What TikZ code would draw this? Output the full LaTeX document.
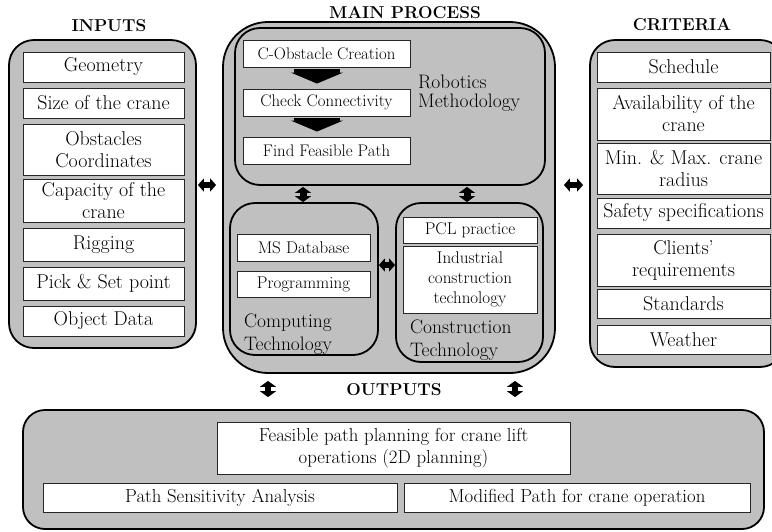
\documentclass[tikz,border=0pt]{standalone}
\usepackage{fontspec}
\usetikzlibrary{arrows.meta}
\definecolor{panelgrey}{RGB}{192,192,192}
\newcommand{\boxfont}{\fontsize{20}{22}\selectfont}
\newcommand{\innerfont}{\fontsize{16.8}{19}\selectfont}
\newcommand{\techfont}{\fontsize{17}{20}\selectfont}
\newcommand{\outfont}{\fontsize{18.8}{22}\selectfont}
\newcommand{\labfont}{\fontsize{19.5}{22.5}\selectfont}
\newcommand{\ttlfont}{\fontsize{17.2}{20}\selectfont\bfseries}
\begin{document}
\begin{tikzpicture}[x=1pt,y=-1pt,
  panel/.style={draw=black, line width=1.8pt, fill=panelgrey, rounded corners=#1, inner sep=0pt},
  panel/.default=25pt,
  wbox/.style={draw=black!85, line width=0.9pt, fill=white, inner sep=0pt, align=center, font=\boxfont},
  ttl/.style={font=\ttlfont, inner sep=0pt},
  lab/.style={font=\labfont, align=left, anchor=west, inner sep=0pt},
  dblh/.style={line width=6pt, {Triangle[width=13pt,length=6pt]}-{Triangle[width=13pt,length=6pt]}},
  dblv/.style={line width=7pt, {Triangle[width=16pt,length=6pt]}-{Triangle[width=16pt,length=6pt]}},
  blockarrow/.style={line width=46pt, -{Triangle[width=52pt,length=11pt]}, shorten <=2pt, shorten >=5pt}
]
\useasboundingbox (0,0) rectangle (772,531);
\clip (0,0) rectangle (772,531);

% ---------- panels ----------
\node[panel, minimum width=187pt, minimum height=308pt] (inP) at (102.5,194) {};
\node[panel=45pt, minimum width=332pt, minimum height=351pt] (mainP) at (389,197.5) {};
\node[panel, minimum width=310pt, minimum height=157pt] (robP) at (390,106.5) {};
\node[panel, minimum width=148pt, minimum height=152pt] (compP) at (304,279) {};
\node[panel, minimum width=147pt, minimum height=159pt] (consP) at (469.5,282.5) {};
\node[panel, minimum width=195pt, minimum height=327pt] (critP) at (687.5,203.5) {};
\node[panel=22pt, minimum width=741pt, minimum height=119pt] (outP) at (393.5,469.5) {};

% ---------- titles ----------
\node[ttl] (tIn) at (109,26) {INPUTS};
\node[ttl] (tMain) at (405,13) {MAIN PROCESS};
\node[ttl] (tCrit) at (682,25) {CRITERIA};
\node[ttl] (tOut) at (394,390) {OUTPUTS};

% ---------- inputs ----------
\node[wbox, minimum width=161pt, minimum height=30pt] (geo) at (103.5,67) {Geometry};
\node[wbox, minimum width=161pt, minimum height=30pt] (size) at (103.5,103) {Size of the crane};
\node[wbox, minimum width=161pt, minimum height=51pt] (obst) at (103.5,149.5) {Obstacles\\Coordinates};
\node[wbox, minimum width=161pt, minimum height=43pt] (cap) at (103.5,200.5) {Capacity of the\\crane};
\node[wbox, minimum width=161pt, minimum height=33pt] (rig) at (103.5,244.5) {Rigging};
\node[wbox, minimum width=161pt, minimum height=33pt] (pick) at (103.5,283.5) {Pick \& Set point};
\node[wbox, minimum width=161pt, minimum height=30pt] (obj) at (103.5,321) {Object Data};

% ---------- criteria ----------
\node[wbox, minimum width=173pt, minimum height=30pt] (sched) at (683.5,67) {Schedule};
\node[wbox, minimum width=173pt, minimum height=52pt] (avail) at (683.5,114) {Availability of the\\crane};
\node[wbox, minimum width=173pt, minimum height=51pt] (radius) at (683.5,168.5) {Min. \& Max. crane\\radius};
\node[wbox, minimum width=173pt, minimum height=30pt] (safety) at (683.5,213) {Safety specifications};
\node[wbox, minimum width=173pt, minimum height=52pt] (clients) at (683.5,260) {Clients’\\requirements};
\node[wbox, minimum width=173pt, minimum height=29pt] (stand) at (683.5,303.5) {Standards};
\node[wbox, minimum width=173pt, minimum height=29pt] (weather) at (683.5,339.5) {Weather};

% ---------- robotics methodology ----------
\node[wbox, font=\innerfont, minimum width=167pt, minimum height=27pt] (cobs) at (326.5,53.5) {C-Obstacle Creation};
\node[wbox, font=\innerfont, minimum width=167pt, minimum height=27pt] (check) at (326.5,102.5) {Check Connectivity};
\node[wbox, font=\innerfont, minimum width=167pt, minimum height=27pt] (find) at (326.5,150.5) {Find Feasible Path};
\node[lab, font=\fontsize{19.5}{19.5}\selectfont] (robL) at (418,93) {Robotics\\Methodology};
\coordinate (ba) at (317,0);
\draw[blockarrow] (cobs.south -| ba) -- (check.north -| ba);
\draw[blockarrow] (check.south -| ba) -- (find.north -| ba);

% ---------- computing technology ----------
\node[wbox, font=\techfont, minimum width=133pt, minimum height=27pt] (msdb) at (303.5,247.5) {MS Database};
\node[wbox, font=\techfont, minimum width=133pt, minimum height=26pt] (prog) at (303.5,284) {Programming};
\node[lab] (compL) at (244,334) {Computing\\Technology};

% ---------- construction technology ----------
\node[wbox, font=\techfont, minimum width=134pt, minimum height=26pt] (pcl) at (470,230) {PCL practice};
\node[wbox, font=\techfont, minimum width=134pt, minimum height=67pt] (ind) at (470,279.5) {Industrial\\construction\\technology};
\node[lab] (consL) at (410,340) {Construction\\Technology};

% ---------- outputs ----------
\node[wbox, font=\outfont, minimum width=353pt, minimum height=52pt] (feas) at (393.5,448) {Feasible path planning for crane lift\\operations (2D planning)};
\node[wbox, font=\outfont, minimum width=354pt, minimum height=29pt] (psa) at (220,497.5) {Path Sensitivity Analysis};
\node[wbox, font=\outfont, minimum width=346pt, minimum height=29pt] (mod) at (577,497.5) {Modified Path for crane operation};

% ---------- connectors ----------
\coordinate (hy) at (0,185);
\draw[dblh, shorten <=1pt, shorten >=6pt] (inP.east |- hy) -- (mainP.west |- hy);
\draw[dblh, shorten <=8pt, shorten >=6pt] (mainP.east |- hy) -- (critP.west |- hy);
\coordinate (vl) at (303,0);
\coordinate (vr) at (467,0);
\draw[dblv, shorten <=1pt, shorten >=0pt] (robP.south -| vl) -- (compP.north -| vl);
\draw[dblv, shorten <=1pt, shorten >=0pt] (robP.south -| vr) -- (consP.north -| vr);
\coordinate (cy) at (0,265);
\draw[dblh] (compP.east |- cy) -- (consP.west |- cy);
\coordinate (ol) at (268,0);
\coordinate (or) at (515,0);
\draw[dblv, line width=6pt, shorten <=7pt, shorten >=12pt] (mainP.south -| ol) -- (outP.north -| ol);
\draw[dblv, line width=6pt, shorten <=7pt, shorten >=12pt] (mainP.south -| or) -- (outP.north -| or);
\end{tikzpicture}
\end{document}
